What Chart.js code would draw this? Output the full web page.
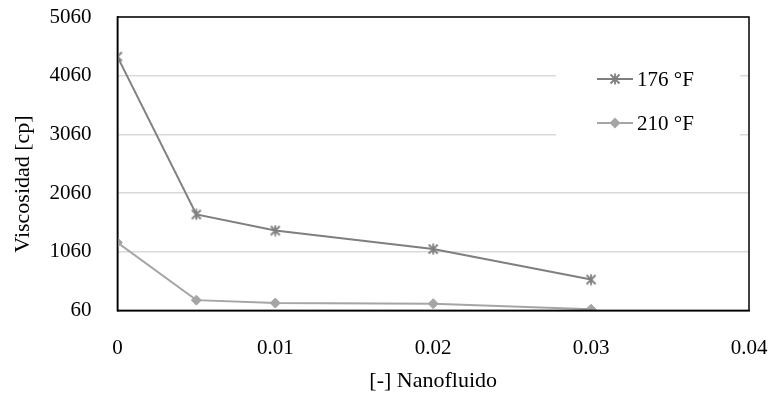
<!DOCTYPE html>
<html>
<head>
<meta charset="utf-8">
<script src="https://cdn.jsdelivr.net/npm/chart.js@4"></script>
<style>
  body { margin: 0; background: #fff; }
  #wrap { width: 773px; height: 398px; }
</style>
</head>
<body>
<div id="wrap"><canvas id="chart" width="773" height="398"></canvas></div>
<script>
const xValues = [0, 0.005, 0.01, 0.02, 0.03];
const visc176 = [4385, 1695, 1420, 1105, 585];
const visc210 = [1215, 235, 185, 175, 80];
const yTicks = [60, 1060, 2060, 3060, 4060, 5060];
const xTicks = [0, 0.01, 0.02, 0.03, 0.04];
const labels = ["176 °F", "210 °F"];
const yTitle = "Viscosidad [cp]";

const FONT = "'Liberation Serif', 'DejaVu Serif', serif";
const NONE = "rgba(0,0,0,0)";

// asterisk marker like excel's "star": an X plus a vertical bar
function makeStar(color) {
  const c = document.createElement("canvas");
  c.width = 12; c.height = 12;
  const g = c.getContext("2d");
  g.strokeStyle = color;
  g.lineWidth = 1.8;
  g.beginPath();
  g.moveTo(1.5, 1.5); g.lineTo(10.5, 10.5);
  g.moveTo(10.5, 1.5); g.lineTo(1.5, 10.5);
  g.moveTo(6, 0.5); g.lineTo(6, 11.5);
  g.stroke();
  return c;
}
const starMark = makeStar("#7f7f7f");

// legend drawn inside the plot, line with marker in the middle
const legendBox = {
  id: "legendBox",
  afterDatasetsDraw(chart) {
    const ctx = chart.ctx;
    const a = chart.chartArea;
    ctx.save();
    ctx.fillStyle = "#fff";
    ctx.fillRect(556, 50, 184, 100);
    chart.data.datasets.forEach((ds, i) => {
      const y = 79 + i * 44;
      const x0 = 597, x1 = 633;
      ctx.strokeStyle = ds.borderColor;
      ctx.fillStyle = ds.backgroundColor;
      ctx.lineWidth = 2;
      ctx.beginPath();
      ctx.moveTo(x0, y);
      ctx.lineTo(x1, y);
      ctx.stroke();
      Chart.helpers.drawPoint(ctx, {
        pointStyle: ds.pointStyle,
        radius: 4,
        borderWidth: 1
      }, (x0 + x1) / 2, y);
      ctx.fillStyle = "#000";
      ctx.font = "21px " + FONT;
      ctx.textBaseline = "middle";
      ctx.textAlign = "left";
      ctx.fillText(ds.label, x1 + 4, y + 1);
    });
    // plot frame
    ctx.strokeStyle = "#000";
    ctx.lineWidth = 1.5;
    ctx.strokeRect(a.left, a.top, a.right - a.left, a.bottom - a.top);

    // y title sits a bit below the plot centre in the original
    const ys = chart.scales.y;
    ctx.translate(ys.left + 14, 184);
    ctx.rotate(-Math.PI / 2);
    ctx.fillStyle = "#000";
    ctx.font = "22px " + FONT;
    ctx.textAlign = "center";
    ctx.textBaseline = "middle";
    ctx.fillText(yTitle, 0, 0);
    ctx.restore();
  }
};

new Chart(document.getElementById("chart"), {
  type: "line",
  data: {
    datasets: [
      {
        label: labels[0],
        data: xValues.map((x, i) => ({ x: x, y: visc176[i] })),
        borderColor: "#7f7f7f",
        backgroundColor: "#7f7f7f",
        borderWidth: 2,
        pointStyle: starMark,
        fill: false
      },
      {
        label: labels[1],
        data: xValues.map((x, i) => ({ x: x, y: visc210[i] })),
        borderColor: "#a5a5a5",
        backgroundColor: "#a5a5a5",
        borderWidth: 2,
        pointStyle: "rectRot",
        pointRadius: 5,
        pointBorderWidth: 1,
        fill: false
      }
    ]
  },
  options: {
    responsive: false,
    animation: false,
    layout: { padding: { top: 17, right: 24, left: 9, bottom: 4 } },
    plugins: {
      legend: { display: false },
      tooltip: { enabled: false }
    },
    scales: {
      x: {
        type: "linear",
        min: 0,
        max: 0.04,
        afterBuildTicks: axis => { axis.ticks = xTicks.map(v => ({ value: v })); },
        ticks: {
          color: "#000",
          font: { family: FONT, size: 21 },
          padding: 0,
          maxRotation: 0,
          callback: v => String(+v.toFixed(2))
        },
        // invisible tick marks only push the labels down
        grid: { color: NONE, tickColor: NONE, drawTicks: true, tickLength: 25 },
        border: { color: "#000", width: 1.5 },
        title: {
          display: true,
          text: "[-] Nanofluido",
          color: "#000",
          font: { family: FONT, size: 22 },
          padding: { top: 7, bottom: 0 }
        }
      },
      y: {
        min: 60,
        max: 5060,
        afterBuildTicks: axis => { axis.ticks = yTicks.map(v => ({ value: v })); },
        ticks: {
          color: "#000",
          font: { family: FONT, size: 21 },
          padding: 0,
          callback: v => String(v)
        },
        grid: { color: "#d9d9d9", lineWidth: 1.5, tickColor: NONE, drawTicks: true, tickLength: 26 },
        border: { color: "#000", width: 1.5 },
        // space kept here, text drawn by the plugin
        title: {
          display: true,
          text: yTitle,
          color: NONE,
          font: { family: FONT, size: 22 },
          padding: { top: 0, bottom: 14 }
        }
      }
    }
  },
  plugins: [legendBox]
});
</script>
</body>
</html>
